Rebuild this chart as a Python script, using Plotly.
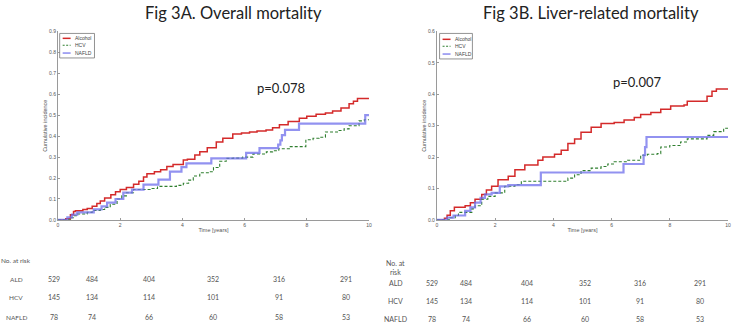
import plotly.graph_objects as go

# ---------------- data ----------------
groups = ["Alcohol", "HCV", "NAFLD"]

# Fig 3A overall mortality (time in years, cumulative incidence)
a_alc_t = [0, 0.25, 0.4, 0.5, 0.56, 0.8, 0.94, 1.1, 1.25, 1.36, 1.5, 1.7, 1.85, 2.0, 2.2, 2.43, 2.6, 2.75, 2.86, 3.1,
           3.3, 3.5, 3.7, 4.03, 4.16, 4.4, 4.56, 4.8, 5.09, 5.3, 5.62, 5.9, 6.16, 6.4, 6.69, 6.9, 7.12, 7.4, 7.76, 8.0,
           8.3, 8.6, 8.83, 9.1, 9.36, 9.5, 9.63, 10]
a_alc_y = [0, 0.005, 0.025, 0.04, 0.044, 0.05, 0.055, 0.065, 0.078, 0.09, 0.105, 0.12, 0.135, 0.145, 0.155, 0.17, 0.185,
           0.205, 0.22, 0.23, 0.24, 0.255, 0.265, 0.286, 0.29, 0.31, 0.325, 0.345, 0.372, 0.39, 0.41, 0.415, 0.42, 0.425,
           0.43, 0.44, 0.455, 0.47, 0.486, 0.495, 0.505, 0.51, 0.52, 0.535, 0.555, 0.567, 0.58, 0.58]

a_hcv_t = [0, 0.4, 0.5, 0.62, 0.94, 1.1, 1.36, 1.5, 1.68, 1.9, 2.05, 2.2, 2.43, 2.96, 3.2, 3.7, 3.81, 4.03, 4.2, 4.35,
           4.56, 4.88, 5.0, 5.2, 5.41, 5.63, 5.94, 6.27, 6.7, 6.9, 7.1, 7.44, 7.97, 8.2, 8.4, 8.6, 9.04, 9.2, 9.36, 9.68,
           9.85, 10]
a_hcv_y = [0, 0.01, 0.02, 0.028, 0.036, 0.045, 0.05, 0.06, 0.075, 0.1, 0.115, 0.13, 0.145, 0.15, 0.16, 0.16, 0.165, 0.175,
           0.19, 0.21, 0.225, 0.23, 0.25, 0.28, 0.294, 0.295, 0.3, 0.315, 0.325, 0.33, 0.34, 0.35, 0.383, 0.39, 0.395,
           0.42, 0.427, 0.435, 0.45, 0.473, 0.478, 0.48]

a_naf_t = [0, 0.3, 0.45, 0.62, 1.15, 1.4, 1.58, 1.85, 2.1, 2.38, 2.75, 3.23, 3.6, 3.97, 4.13, 4.93, 6.05, 6.48, 7.08,
           7.15, 7.2, 7.3, 7.75, 9.88, 10]
a_naf_y = [0, 0.012, 0.025, 0.036, 0.05, 0.065, 0.083, 0.1, 0.13, 0.145, 0.169, 0.192, 0.231, 0.252, 0.27, 0.294, 0.32,
           0.343, 0.36, 0.38, 0.405, 0.43, 0.46, 0.50, 0.50]

# Fig 3B liver-related mortality
b_alc_t = [0, 0.26, 0.35, 0.46, 0.6, 0.97, 1.15, 1.31, 1.54, 1.7, 1.88, 2.1, 2.45, 2.68, 3.02, 3.47, 3.64, 4.04, 4.27,
           4.5, 4.73, 4.95, 5.3, 5.64, 6.09, 6.43, 6.78, 7.0, 7.35, 7.69, 8.03, 8.49, 8.6, 9.05, 9.28, 9.45, 9.6, 10]
b_alc_y = [0, 0.005, 0.015, 0.029, 0.04, 0.045, 0.055, 0.066, 0.081, 0.095, 0.107, 0.128, 0.139, 0.16, 0.175, 0.19, 0.2,
           0.209, 0.222, 0.243, 0.258, 0.279, 0.295, 0.307, 0.31, 0.318, 0.326, 0.336, 0.342, 0.352, 0.363, 0.366,
           0.378, 0.378, 0.394, 0.41, 0.417, 0.417]

b_hcv_t = [0, 0.45, 0.63, 0.74, 1.08, 1.2, 1.31, 1.54, 1.75, 2.0, 2.33, 2.68, 2.9, 3.47, 4.5, 4.73, 4.95, 5.3, 5.64,
           5.87, 6.09, 6.55, 7.0, 7.23, 7.57, 7.69, 8.0, 8.37, 8.6, 9.05, 9.28, 9.51, 9.85, 10]
b_hcv_y = [0, 0.007, 0.014, 0.024, 0.024, 0.035, 0.045, 0.066, 0.075, 0.086, 0.107, 0.112, 0.123, 0.123, 0.133, 0.144,
           0.157, 0.165, 0.17, 0.178, 0.185, 0.19, 0.206, 0.209, 0.211, 0.232, 0.237, 0.248, 0.258, 0.258, 0.269, 0.281,
           0.292, 0.292]

b_naf_t = [0, 0.35, 0.57, 0.97, 1.15, 1.31, 1.5, 1.65, 1.88, 2.16, 2.45, 3.57, 6.41, 7.1, 7.15, 7.2, 10]
b_naf_y = [0, 0.007, 0.014, 0.029, 0.04, 0.055, 0.07, 0.081, 0.086, 0.107, 0.111, 0.151, 0.178, 0.206, 0.232, 0.264,
           0.264]

x_ticks = [0, 2, 4, 6, 8, 10]
a_y_ticks = [0.0, 0.1, 0.2, 0.3, 0.4, 0.5, 0.6, 0.7, 0.8, 0.9]
b_y_ticks = [0.0, 0.1, 0.2, 0.3, 0.4, 0.5, 0.6]

risk_labels = ["ALD", "HCV", "NAFLD"]
risk_ald = [529, 484, 404, 352, 316, 291]
risk_hcv = [145, 134, 114, 101, 91, 80]
risk_nafld = [78, 74, 66, 60, 58, 53]

titles = ["Fig 3A. Overall mortality", "Fig 3B. Liver-related mortality"]
p_values = ["p=0.078", "p=0.007"]

# ---------------- figure ----------------
W, H = 733, 325
colors = {"Alcohol": "#d42a2a", "HCV": "#2f7f2f", "NAFLD": "rgba(110,110,235,0.75)"}
widths = {"Alcohol": 1.5, "HCV": 1.1, "NAFLD": 2.2}
dashes = {"Alcohol": "solid", "HCV": "3px,2px", "NAFLD": "solid"}

fig = go.Figure()
panels = [
    ("x", "y", [(a_alc_t, a_alc_y), (a_hcv_t, a_hcv_y), (a_naf_t, a_naf_y)]),
    ("x2", "y2", [(b_alc_t, b_alc_y), (b_hcv_t, b_hcv_y), (b_naf_t, b_naf_y)]),
]
for xa, ya, series in panels:
    for name, (t, v) in zip(groups, series):
        fig.add_trace(go.Scatter(
            x=t, y=v, mode="lines", name=name, xaxis=xa, yaxis=ya, showlegend=False,
            line=dict(color=colors[name], width=widths[name], dash=dashes[name], shape="hv"),
        ))


def px(x):
    return x / W


def py(y):
    return 1 - y / H


small = dict(size=5.5, color="#555", family="Liberation Sans")
axis_common = dict(showgrid=False, zeroline=False, showline=True, linecolor="#9a9a9a", linewidth=1,
                   ticks="inside", ticklen=2, tickcolor="#9a9a9a", tickfont=dict(size=5, color="#555",
                                                                               family="Liberation Sans"))

fig.update_layout(
    width=W, height=H, margin=dict(l=0, r=0, t=0, b=0),
    paper_bgcolor="white", plot_bgcolor="white", showlegend=False,
    xaxis=dict(domain=[px(57.3), px(370)], range=[0, 10], tickvals=x_ticks, anchor="y",
               title=dict(text="Time [years]", font=small, standoff=1), **axis_common),
    yaxis=dict(domain=[py(221), py(29)], range=[0, 0.9], tickvals=a_y_ticks, tickformat=".1f", anchor="x",
               title=dict(text="Cumulative incidence", font=small, standoff=1), **axis_common),
    xaxis2=dict(domain=[px(438.3), px(731)], range=[0, 10], tickvals=x_ticks, anchor="y2",
                title=dict(text="Time [years]", font=small, standoff=1), **axis_common),
    yaxis2=dict(domain=[py(221), py(29)], range=[0, 0.6], tickvals=b_y_ticks, tickformat=".1f", anchor="x2",
                title=dict(text="Cumulative incidence", font=small, standoff=1), **axis_common),
)

ann = []
shapes = []

# compact legends (box, sample line, label) in the top-left corner of each panel
legend_boxes = [(59, 31, 94, 56), (441, 31, 474, 57)]
legend_rows = [[36, 43, 51], [37, 44, 52]]
for (x0, y0, x1, y1), rows_y in zip(legend_boxes, legend_rows):
    shapes.append(dict(type="rect", xref="paper", yref="paper", x0=px(x0), x1=px(x1), y0=py(y0), y1=py(y1),
                       line=dict(color="#777", width=0.8), fillcolor="white"))
    for name, ry in zip(groups, rows_y):
        shapes.append(dict(type="line", xref="paper", yref="paper", x0=px(x0 + 3), x1=px(x0 + 11),
                           y0=py(ry), y1=py(ry),
                           line=dict(color=colors[name], width=min(widths[name], 1.6),
                                     dash="2px,1.5px" if name == "HCV" else "solid")))
        ann.append(dict(text=name, x=px(x0 + 13), y=py(ry), xref="paper", yref="paper", showarrow=False,
                        xanchor="left", yanchor="middle", font=dict(size=5, color="#444", family="Liberation Sans")))

# titles
for text, cx in zip(titles, [234, 593]):
    ann.append(dict(text=text, x=px(cx), y=py(10), xref="paper", yref="paper", showarrow=False,
                    xanchor="center", yanchor="middle", font=dict(size=16.5, color="#222", family="Lato")))
# p-values in data coordinates
ann.append(dict(text=p_values[0], x=7.18, y=0.63, xref="x", yref="y", showarrow=False,
                font=dict(size=13, color="#222", family="Lato")))
ann.append(dict(text=p_values[1], x=6.89, y=0.44, xref="x2", yref="y2", showarrow=False,
                font=dict(size=13, color="#222", family="Lato")))

# number-at-risk tables
tfont = dict(size=7, color="#555", family="Lato")
rows = [risk_ald, risk_hcv, risk_nafld]
left_cols = [53, 91, 149, 213, 280, 347]
right_cols = [433, 468, 529, 587, 643, 703]
left_rows_y = [281.7, 300, 320]
right_rows_y = [285.3, 303.3, 321.7]

ann.append(dict(text="No. at risk", x=px(-2), y=py(262.7), xref="paper", yref="paper", showarrow=False,
                xanchor="left", yanchor="middle", font=dict(size=6.5, color="#555", family="Lato")))
ann.append(dict(text="No. at<br>risk", x=px(396.7), y=py(269.5), xref="paper", yref="paper", showarrow=False,
                xanchor="center", yanchor="middle", align="center", font=tfont))
for label, vals, ly, ry in zip(risk_labels, rows, left_rows_y, right_rows_y):
    ann.append(dict(text=label, x=px(15.5), y=py(ly), xref="paper", yref="paper", showarrow=False,
                    xanchor="center", yanchor="middle", font=dict(size=6.5, color="#555", family="Lato")))
    ann.append(dict(text=label, x=px(396.7), y=py(ry), xref="paper", yref="paper", showarrow=False,
                    xanchor="center", yanchor="middle", font=tfont))
    for v, lx, rx in zip(vals, left_cols, right_cols):
        ann.append(dict(text=str(v), x=px(lx), y=py(ly), xref="paper", yref="paper", showarrow=False,
                        xanchor="center", yanchor="middle", font=tfont))
        ann.append(dict(text=str(v), x=px(rx), y=py(ry), xref="paper", yref="paper", showarrow=False,
                        xanchor="center", yanchor="middle", font=tfont))

fig.update_layout(annotations=ann, shapes=shapes)
fig.write_html("out.html", config={"displayModeBar": False},
               post_script="document.body.style.margin='0px';document.body.style.overflow='hidden';")
